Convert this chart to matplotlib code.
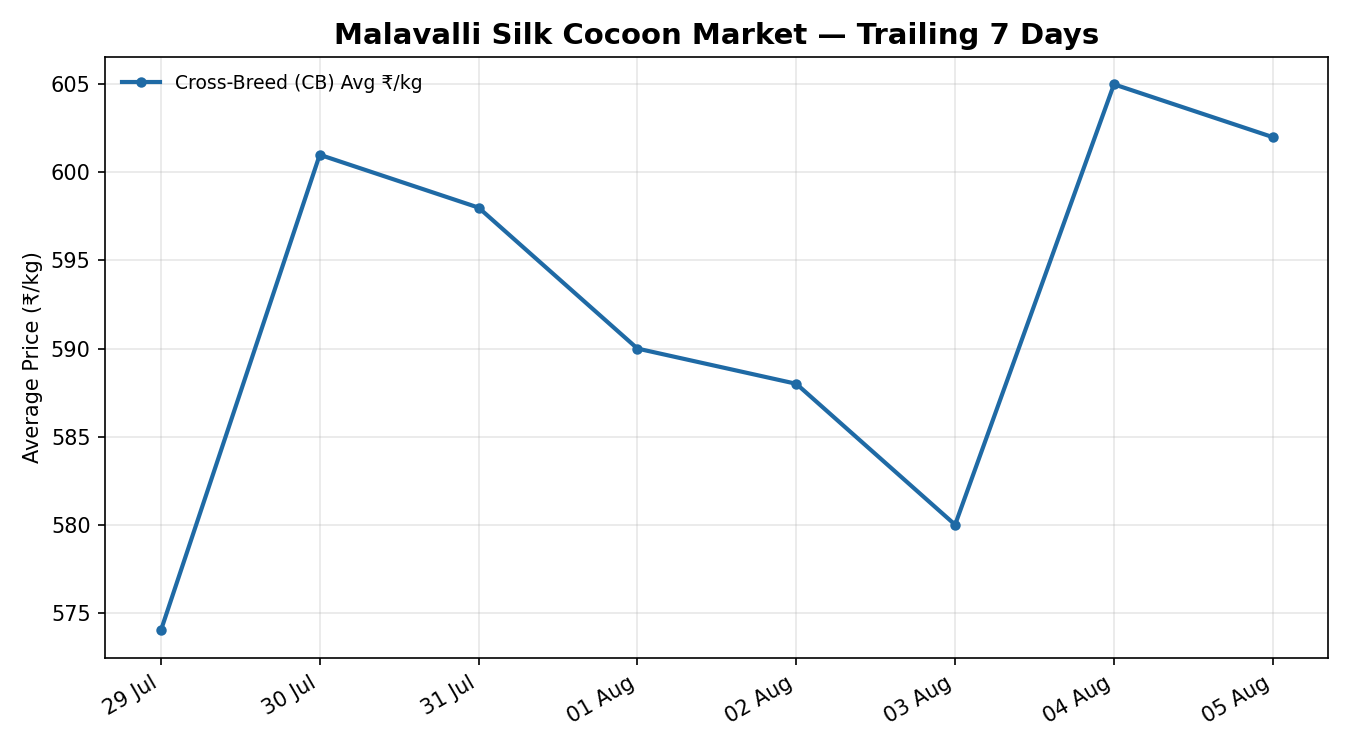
import matplotlib
matplotlib.use("Agg")
import matplotlib.pyplot as plt
import matplotlib.dates as mdates
import numpy as np
import pandas as pd

# daily average price, cross-breed cocoons
dates = pd.to_datetime(["2024-07-29", "2024-07-30", "2024-07-31", "2024-08-01",
                        "2024-08-02", "2024-08-03", "2024-08-04", "2024-08-05"])
cb_avg = [574, 601, 598, 590, 588, 580, 605, 602]

fig, ax = plt.subplots(figsize=(9, 5), dpi=150)
ax.plot(dates, cb_avg, marker='o', markersize=4, lw=2, color='#1f6aa5',
        label='Cross-Breed (CB) Avg ₹/kg')
ax.set_title('Malavalli Silk Cocoon Market — Trailing 7 Days', fontsize=14, fontweight='bold')
ax.set_ylabel('Average Price (₹/kg)')
ax.xaxis.set_major_locator(mdates.DayLocator())
ax.xaxis.set_major_formatter(mdates.DateFormatter('%d %b'))
ax.grid(True, alpha=0.3)
ax.legend(loc='upper left', frameon=False, fontsize=9)
fig.autofmt_xdate()
fig.subplots_adjust(left=0.078, right=0.984, top=0.924, bottom=0.123)
fig.savefig('out.png')
